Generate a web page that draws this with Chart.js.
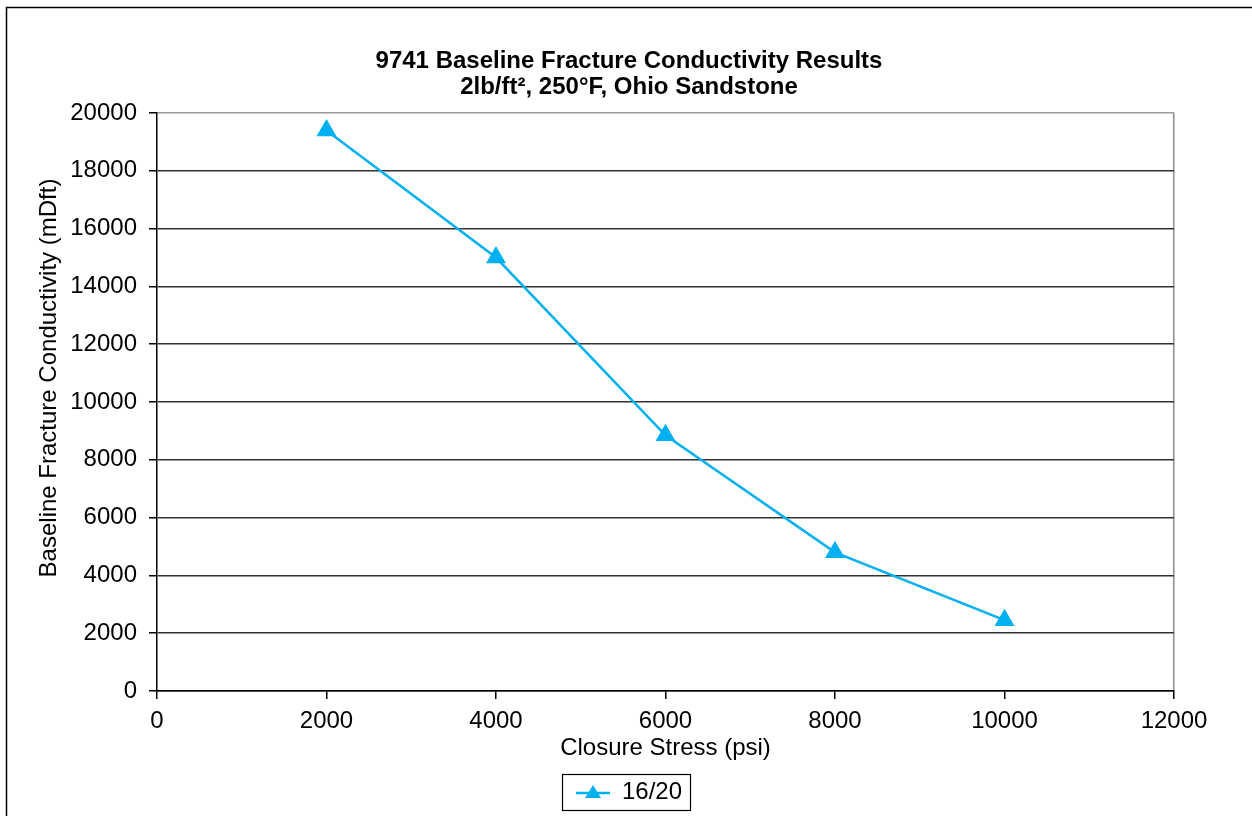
<!DOCTYPE html>
<html>
<head>
<meta charset="utf-8">
<script src="https://cdn.jsdelivr.net/npm/chart.js@4.4.1/dist/chart.umd.min.js"></script>
<style>
  html, body { margin: 0; padding: 0; background: #fff; }
  #wrap { width: 1252px; height: 816px; position: relative; }
</style>
</head>
<body>
<div id="wrap"><canvas id="grafico"></canvas></div>
<script>
// datos
const stressPsi = [2000, 4000, 6000, 8000, 10000];
const conductivity = [19400, 15000, 8850, 4800, 2450];
const seriesName = '16/20';
const titleLines = ['9741 Baseline Fracture Conductivity Results', '2lb/ft\u00B2, 250\u00B0F, Ohio Sandstone'];
const xTitle = 'Closure Stress (psi)';
const yTitle = 'Baseline Fracture Conductivity (mDft)';

const AZUL = '#00B0F0';
const FUENTE = "'Liberation Sans', Arial, sans-serif";

// marcador de leyenda: línea + triángulo
const marca = document.createElement('canvas');
marca.width = 34; marca.height = 20;
(function () {
    const c = marca.getContext('2d');
    c.strokeStyle = AZUL; c.lineWidth = 2.5;
    c.beginPath(); c.moveTo(0, 11); c.lineTo(34, 11); c.stroke();
    c.fillStyle = AZUL;
    c.beginPath(); c.moveTo(17, 3); c.lineTo(25, 16); c.lineTo(9, 16); c.closePath(); c.fill();
})();

const marcoPlugin = {
    id: 'marco',
    beforeDraw(chart) {
        const c = chart.ctx;
        c.save();
        c.strokeStyle = '#000'; c.lineWidth = 1.5;
        c.beginPath(); c.moveTo(6.5, chart.height); c.lineTo(6.5, 7.5); c.lineTo(chart.width, 7.5); c.stroke();
        c.restore();
    },
    afterDraw(chart) {
        const c = chart.ctx;
        c.save();
        // título del eje Y (un poco por encima del centro, como el original)
        c.translate(49, 378);
        c.rotate(-Math.PI / 2);
        c.font = '24px ' + FUENTE;
        c.fillStyle = '#000';
        c.textAlign = 'center'; c.textBaseline = 'middle';
        c.fillText(yTitle, 0, 0);
        c.restore();
        // recuadro de la leyenda
        const hb = chart.legend.legendHitBoxes && chart.legend.legendHitBoxes[0];
        if (hb) {
            c.save();
            c.strokeStyle = '#000'; c.lineWidth = 1.2;
            const cy = hb.top + hb.height / 2;
            c.strokeRect(Math.round(hb.left - 14) + 0.5, Math.round(cy - 18) + 0.5, Math.round(hb.width + 22), 36);
            c.restore();
        }
    }
};

new Chart(document.getElementById('grafico').getContext('2d'), {
    type: 'line',
    data: {
        datasets: [{
            label: seriesName,
            data: stressPsi.map((x, i) => ({ x: x, y: conductivity[i] })),
            borderColor: AZUL,
            backgroundColor: AZUL,
            borderWidth: 2.5,
            pointStyle: 'triangle',
            pointRadius: 9,
            pointHoverRadius: 9,
            pointBackgroundColor: AZUL,
            pointBorderColor: AZUL,
            tension: 0
        }]
    },
    options: {
        responsive: true,
        maintainAspectRatio: false,
        animation: false,
        layout: { padding: { left: 6, right: 0, top: 0, bottom: 2 } },
        plugins: {
            tooltip: { enabled: false },
            title: {
                display: true,
                text: titleLines,
                color: '#000',
                font: { family: FUENTE, size: 24, weight: 'bold', lineHeight: 1.085 },
                padding: { top: 48, bottom: 13 }
            },
            legend: {
                display: true,
                position: 'bottom',
                labels: {
                    color: '#000',
                    font: { family: FUENTE, size: 24 },
                    usePointStyle: true,
                    pointStyleWidth: 34,
                    padding: 7,
                    generateLabels: (chart) => Chart.defaults.plugins.legend.labels.generateLabels(chart)
                        .map(it => Object.assign(it, { pointStyle: marca }))
                }
            }
        },
        scales: {
            x: {
                type: 'linear',
                min: 0,
                max: 12000,
                afterFit: s => { s.height = 82; },
                ticks: {
                    stepSize: 2000,
                    color: '#000',
                    padding: 8,
                    maxRotation: 0,
                    font: { family: FUENTE, size: 24 },
                    callback: v => String(v)
                },
                grid: {
                    drawOnChartArea: true,
                    color: ctx => (ctx.tick && ctx.tick.value === 12000) ? '#8c8c8c' : 'rgba(0,0,0,0)',
                    tickColor: '#000',
                    tickLength: 8,
                    lineWidth: 1.5
                },
                border: { color: '#000', width: 1.5 },
                title: {
                    display: true,
                    text: xTitle,
                    color: '#000',
                    font: { family: FUENTE, size: 24 },
                    padding: { top: 0, bottom: 10 }
                }
            },
            y: {
                min: 0,
                max: 20000,
                afterFit: s => { s.width = 151; },
                ticks: {
                    stepSize: 2000,
                    color: '#000',
                    padding: 12,
                    font: { family: FUENTE, size: 24 },
                    callback: v => String(v)
                },
                grid: {
                    color: ctx => (ctx.tick && ctx.tick.value === 20000) ? '#9a9a9a' : '#333',
                    tickColor: '#000',
                    tickLength: 8,
                    lineWidth: 1.5
                },
                border: { color: '#000', width: 1.5 },
                title: { display: false }
            },
            // espacio vacío a la derecha del área de trazado
            hueco: {
                type: 'linear',
                position: 'right',
                min: 0,
                max: 1,
                afterFit: s => { s.width = 78; },
                ticks: { display: false },
                grid: { display: false },
                border: { display: false }
            }
        }
    },
    plugins: [marcoPlugin]
});
</script>
</body>
</html>
